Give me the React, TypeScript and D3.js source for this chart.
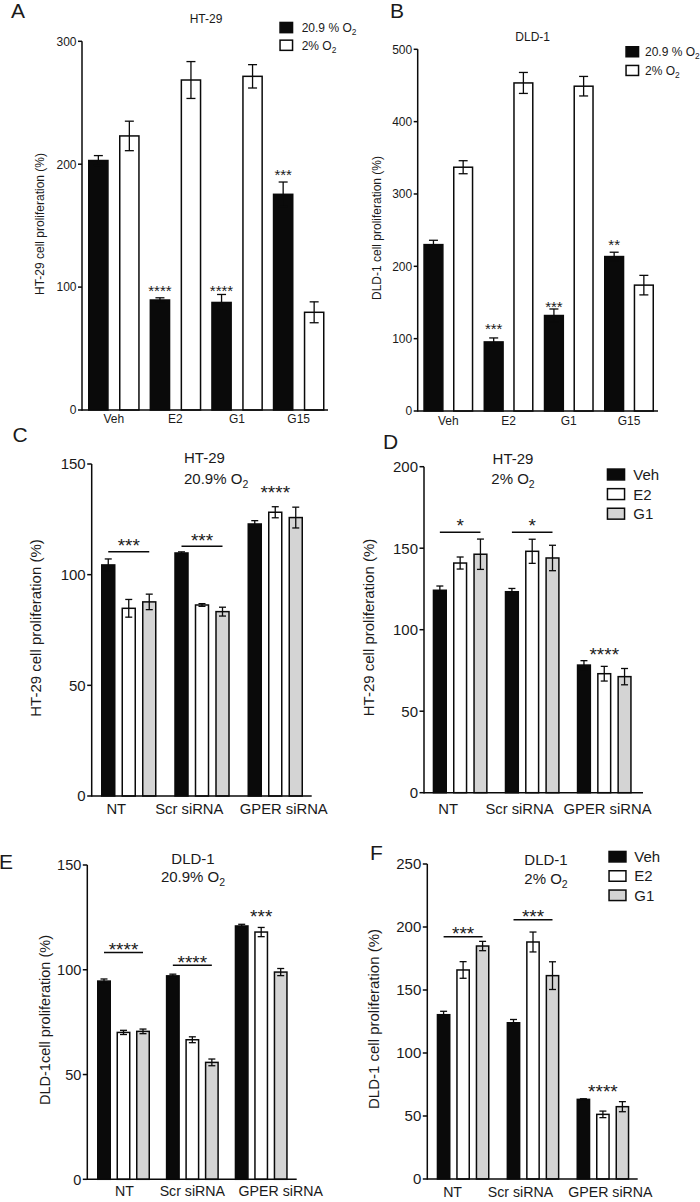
import React from "react";
import * as d3 from "d3";

const FONT = "'Liberation Sans', Arial, Helvetica, sans-serif";
const BLACK = "#0a0a0a";
const WHITE = "#ffffff";
const GRAY = "#d4d4d4";
const TEXT = "#1a1a1a";

// ---------- Panels A & B : treatments under two oxygen conditions ----------
const treatments = ["Veh", "E2", "G1", "G15"];
const oxygenSeries = ["20.9 % O2", "2% O2"];

const ht29Normoxia = [203, 89.5, 87.5, 175.5];
const ht29NormoxiaErr = [4, 1.8, 6.5, 10];
const ht29Hypoxia = [223, 268.5, 271.5, 79.5];
const ht29HypoxiaErr = [12, 15, 9.5, 8.5];
const ht29StarText = ["", "****", "****", "***"];
const ht29StarLevel = [0, 100.2, 100.2, 194.6];

const dld1Normoxia = [230, 95.5, 132, 213.5];
const dld1NormoxiaErr = [6, 5.5, 9, 6];
const dld1Hypoxia = [337, 453.5, 449, 174];
const dld1HypoxiaErr = [9, 14.5, 13.5, 13.5];
const dld1StarText = ["", "***", "***", "**"];
const dld1StarLevel = [0, 118.9, 148.9, 234];

// ---------- Panels C-F : siRNA groups x drug ----------
const siGroups = ["NT", "Scr siRNA", "GPER siRNA"];
const drugSeries = ["Veh", "E2", "G1"];

const cVeh = [104.4, 109.8, 122.9];
const cVehErr = [2.7, 0.5, 1.5];
const cE2 = [84.8, 86.3, 128.2];
const cE2Err = [4, 0.6, 2.5];
const cG1 = [87.7, 83.3, 125.8];
const cG1Err = [3.5, 2, 4.7];
const cSigText = ["***", "***", "****"];
const cSigLevel = [110.4, 112.8, 139];
const cSigBracket = [true, true, false];

const dVeh = [124.2, 123.3, 78.3];
const dVehErr = [2.6, 2, 2.7];
const dE2 = [140.9, 148.1, 73];
const dE2Err = [3.7, 7.4, 4.5];
const dG1 = [146.3, 144, 71.2];
const dG1Err = [9.3, 7.8, 5];
const dSigText = ["*", "*", "****"];
const dSigLevel = [159.8, 159.8, 87.5];
const dSigBracket = [true, true, false];

const eVeh = [94.6, 97.1, 120.9];
const eVehErr = [1, 0.8, 0.8];
const eE2 = [70.1, 66.6, 118];
const eE2Err = [1, 1.4, 2.2];
const eG1 = [70.6, 55.8, 98.9];
const eG1Err = [1.1, 1.6, 1.7];
const eSigText = ["****", "****", "***"];
const eSigLevel = [108.3, 102.2, 127.7];
const eSigBracket = [true, true, false];

const fVeh = [130.4, 124, 63.2];
const fVehErr = [2.7, 2.6, 0.5];
const fE2 = [165.9, 188.1, 51.3];
const fE2Err = [6.6, 7.9, 2.6];
const fG1 = [184.9, 161.4, 57.4];
const fG1Err = [3.7, 11, 4];
const fSigText = ["***", "***", "****"];
const fSigLevel = [192.3, 205.8, 72.8];
const fSigBracket = [true, true, false];

const ticksA = [0, 100, 200, 300];
const ticksB = [0, 100, 200, 300, 400, 500];
const ticksC = [0, 50, 100, 150];
const ticksD = [0, 50, 100, 150, 200];
const ticksE = [0, 50, 100, 150];
const ticksF = [0, 50, 100, 150, 200, 250];

type Sig = { group: number; series: number | null; text: string; level: number; bracket: boolean };

type Legend = { x: number; y: number; step: number; w: number; h: number; textX: number; size: number };

type PanelCfg = {
  letter: string; letterX: number; letterY: number;
  categories: string[]; series: string[];
  values: number[][]; errors: number[][]; fills: string[];
  yMax: number; yTicks: number[];
  axisX: number; axisEnd: number; yBottom: number; yTop: number;
  barsStart: number; barsEnd: number; barWidth: number; barGap: number;
  fs: number; tickLen: number; capW: number;
  yLabel: string; yLabelX: number; yLabelY: number; yLabelSize: number;
  title: string[]; titleX: number; titleY: number; titleLineH: number; titleAnchor: "start" | "middle"; titleSize: number;
  legend?: Legend;
  catLabelY: number; catDx: number[]; catSize: number;
  sigs: Sig[]; starSize: number; starGap: number;
};

function starSigs(text: string[], level: number[]): Sig[] {
  return text
    .map((t, i) => ({ group: i, series: 0, text: t, level: level[i], bracket: false }))
    .filter((s) => s.text !== "");
}
function groupSigs(text: string[], level: number[], bracket: boolean[]): Sig[] {
  return text.map((t, i) => ({ group: i, series: null, text: t, level: level[i], bracket: bracket[i] }));
}

function Txt({ text, size }: { text: string; size: number }) {
  const m = text.match(/^(.*O)2$/);
  if (m) {
    return (
      <>
        {m[1]}
        <tspan dy={size * 0.28} fontSize={size * 0.7}>2</tspan>
      </>
    );
  }
  return <>{text}</>;
}

const panels: PanelCfg[] = [
  {
    letter: "A", letterX: 11, letterY: 18,
    categories: treatments, series: oxygenSeries,
    values: [ht29Normoxia, ht29Hypoxia], errors: [ht29NormoxiaErr, ht29HypoxiaErr], fills: [BLACK, WHITE],
    yMax: 300, yTicks: ticksA,
    axisX: 82, axisEnd: 328, yBottom: 410, yTop: 41.3,
    barsStart: 88, barsEnd: 324.5, barWidth: 20.7, barGap: 10.3,
    fs: 12, tickLen: 4, capW: 9,
    yLabel: "HT-29 cell proliferation (%)", yLabelX: 43.6, yLabelY: 224, yLabelSize: 12,
    title: ["HT-29"], titleX: 206, titleY: 23.3, titleLineH: 0, titleAnchor: "middle", titleSize: 12,
    legend: { x: 279.3, y: 21.7, step: 17.7, w: 14, h: 11.7, textX: 301.7, size: 12 },
    catLabelY: 423, catDx: [0, 0, 0, 0], catSize: 12,
    sigs: starSigs(ht29StarText, ht29StarLevel), starSize: 15, starGap: 0,
  },
  {
    letter: "B", letterX: 390, letterY: 17.5,
    categories: treatments, series: oxygenSeries,
    values: [dld1Normoxia, dld1Hypoxia], errors: [dld1NormoxiaErr, dld1HypoxiaErr], fills: [BLACK, WHITE],
    yMax: 500, yTicks: ticksB,
    axisX: 417.7, axisEnd: 658, yBottom: 411, yTop: 49.3,
    barsStart: 423.3, barsEnd: 654, barWidth: 20.3, barGap: 9.4,
    fs: 12, tickLen: 4, capW: 9,
    yLabel: "DLD-1 cell proliferation (%)", yLabelX: 381.3, yLabelY: 228, yLabelSize: 12,
    title: ["DLD-1"], titleX: 532.7, titleY: 41, titleLineH: 0, titleAnchor: "middle", titleSize: 12,
    legend: { x: 625.3, y: 46, step: 18.7, w: 14, h: 11.5, textX: 645, size: 12 },
    catLabelY: 425, catDx: [0, 0, 0, 0], catSize: 12,
    sigs: starSigs(dld1StarText, dld1StarLevel), starSize: 15, starGap: 0,
  },
  {
    letter: "C", letterX: 12.5, letterY: 441.5,
    categories: siGroups, series: drugSeries,
    values: [cVeh, cE2, cG1], errors: [cVehErr, cE2Err, cG1Err], fills: [BLACK, WHITE, GRAY],
    yMax: 150, yTicks: ticksC,
    axisX: 91.7, axisEnd: 311.7, yBottom: 796, yTop: 464,
    barsStart: 101, barsEnd: 303, barWidth: 14.5, barGap: 6,
    fs: 15, tickLen: 4.5, capW: 7,
    yLabel: "HT-29 cell proliferation (%)", yLabelX: 40.7, yLabelY: 628, yLabelSize: 15,
    title: ["HT-29", "20.9% O2"], titleX: 184, titleY: 463.4, titleLineH: 20.3, titleAnchor: "start", titleSize: 15,
    catLabelY: 813.5, catDx: [-12.5, -12.7, 8.5], catSize: 14.8,
    sigs: groupSigs(cSigText, cSigLevel, cSigBracket), starSize: 19, starGap: 10.5,
  },
  {
    letter: "D", letterX: 383, letterY: 449,
    categories: siGroups, series: drugSeries,
    values: [dVeh, dE2, dG1], errors: [dVehErr, dE2Err, dG1Err], fills: [BLACK, WHITE, GRAY],
    yMax: 200, yTicks: ticksD,
    axisX: 424, axisEnd: 643, yBottom: 792.7, yTop: 466.7,
    barsStart: 432.7, barsEnd: 631.7, barWidth: 14.3, barGap: 6,
    fs: 15, tickLen: 4.5, capW: 7,
    yLabel: "HT-29 cell proliferation (%)", yLabelX: 374, yLabelY: 627.5, yLabelSize: 15,
    title: ["HT-29", "2% O2"], titleX: 513, titleY: 463.7, titleLineH: 20, titleAnchor: "middle", titleSize: 15,
    legend: { x: 606.7, y: 468.3, step: 19.6, w: 18.6, h: 12.4, textX: 633.3, size: 15 },
    catLabelY: 813.5, catDx: [-12, -12.7, 3.3], catSize: 14.8,
    sigs: groupSigs(dSigText, dSigLevel, dSigBracket), starSize: 19, starGap: 11.5,
  },
  {
    letter: "E", letterX: -1, letterY: 869,
    categories: siGroups, series: drugSeries,
    values: [eVeh, eE2, eG1], errors: [eVehErr, eE2Err, eG1Err], fills: [BLACK, WHITE, GRAY],
    yMax: 150, yTicks: ticksE,
    axisX: 87.3, axisEnd: 296.7, yBottom: 1179.3, yTop: 865,
    barsStart: 97, barsEnd: 287.7, barWidth: 14, barGap: 5.5,
    fs: 14.5, tickLen: 4.5, capW: 7,
    yLabel: "DLD-1cell proliferation (%)", yLabelX: 50.4, yLabelY: 1020, yLabelSize: 14.5,
    title: ["DLD-1", "20.9% O2"], titleX: 193, titleY: 863.7, titleLineH: 18.4, titleAnchor: "middle", titleSize: 15,
    catLabelY: 1196, catDx: [1, 0, 19.5], catSize: 14.2,
    sigs: groupSigs(eSigText, eSigLevel, eSigBracket), starSize: 19, starGap: 7.5,
  },
  {
    letter: "F", letterX: 370, letterY: 860,
    categories: siGroups, series: drugSeries,
    values: [fVeh, fE2, fG1], errors: [fVehErr, fE2Err, fG1Err], fills: [BLACK, WHITE, GRAY],
    yMax: 250, yTicks: ticksF,
    axisX: 427.3, axisEnd: 637.7, yBottom: 1179, yTop: 864,
    barsStart: 436.7, barsEnd: 629.3, barWidth: 13.8, barGap: 5.7,
    fs: 15, tickLen: 4.5, capW: 7,
    yLabel: "DLD-1 cell proliferation (%)", yLabelX: 379, yLabelY: 1019, yLabelSize: 15,
    title: ["DLD-1", "2% O2"], titleX: 546, titleY: 864.7, titleLineH: 19, titleAnchor: "middle", titleSize: 15,
    legend: { x: 608.3, y: 850.7, step: 19.3, w: 18.4, h: 12, textX: 634.3, size: 15 },
    catLabelY: 1196.5, catDx: [-10.5, -12.5, 7.5], catSize: 14.2,
    sigs: groupSigs(fSigText, fSigLevel, fSigBracket), starSize: 19, starGap: 8,
  },
];

function Panel({ p }: { p: PanelCfg }) {
  const y = d3.scaleLinear().domain([0, p.yMax]).range([p.yBottom, p.yTop]);
  const nG = p.categories.length;
  const nS = p.series.length;
  const groupW = nS * p.barWidth + (nS - 1) * p.barGap;
  const gStep = (p.barsEnd - p.barsStart - groupW) / (nG - 1);
  const gx = d3
    .scaleBand<string>()
    .domain(p.categories)
    .range([p.barsStart, p.barsEnd])
    .paddingInner(1 - groupW / gStep)
    .paddingOuter(0);
  const sx = d3
    .scaleBand<string>()
    .domain(p.series)
    .range([0, groupW])
    .paddingInner(p.barGap / (p.barWidth + p.barGap))
    .paddingOuter(0);
  const sw = 1.5;

  const barCenter = (g: number, s: number) =>
    (gx(p.categories[g]) as number) + (sx(p.series[s]) as number) + sx.bandwidth() / 2;
  const groupCenter = (g: number) => (gx(p.categories[g]) as number) + gx.bandwidth() / 2;

  return (
    <g fontFamily={FONT} fill={TEXT}>
      <text x={p.letterX} y={p.letterY} fontSize={21}>{p.letter}</text>

      {p.series.map((s, si) =>
        p.categories.map((c, gi) => {
          const v = p.values[si][gi];
          const x0 = (gx(c) as number) + (sx(s) as number);
          return (
            <rect
              key={`b-${si}-${gi}`}
              x={x0 + sw / 2}
              y={y(v)}
              width={sx.bandwidth() - sw}
              height={p.yBottom - y(v)}
              fill={p.fills[si]}
              stroke={BLACK}
              strokeWidth={sw}
            />
          );
        })
      )}

      {p.series.map((s, si) =>
        p.categories.map((c, gi) => {
          const v = p.values[si][gi];
          const e = p.errors[si][gi];
          const cx = barCenter(gi, si);
          const yHi = y(v + e);
          const yLo = y(v - e);
          return (
            <g key={`e-${si}-${gi}`} stroke={BLACK} strokeWidth={1.3}>
              <line x1={cx} x2={cx} y1={yHi} y2={yLo} />
              <line x1={cx - p.capW / 2} x2={cx + p.capW / 2} y1={yHi} y2={yHi} />
              <line x1={cx - p.capW / 2} x2={cx + p.capW / 2} y1={yLo} y2={yLo} />
            </g>
          );
        })
      )}

      <line x1={p.axisX} x2={p.axisX} y1={p.yBottom + 0.75} y2={y(p.yMax)} stroke={BLACK} strokeWidth={1.5} />
      <line x1={p.axisX} x2={p.axisEnd} y1={p.yBottom} y2={p.yBottom} stroke={BLACK} strokeWidth={1.5} />
      {p.yTicks.map((t) => (
        <g key={`t-${t}`}>
          <line x1={p.axisX - p.tickLen} x2={p.axisX} y1={y(t)} y2={y(t)} stroke={BLACK} strokeWidth={1.5} />
          <text x={p.axisX - p.tickLen - 1.5} y={y(t) + p.fs * 0.36} fontSize={p.fs} textAnchor="end">
            {t}
          </text>
        </g>
      ))}

      {p.categories.map((c, gi) => (
        <text key={`c-${gi}`} x={groupCenter(gi) + p.catDx[gi]} y={p.catLabelY} fontSize={p.catSize} textAnchor="middle">
          {c}
        </text>
      ))}

      <text
        transform={`translate(${p.yLabelX},${p.yLabelY}) rotate(-90)`}
        fontSize={p.yLabelSize}
        textAnchor="middle"
      >
        {p.yLabel}
      </text>

      {p.title.map((t, i) => (
        <text
          key={`ti-${i}`}
          x={p.titleX}
          y={p.titleY + i * p.titleLineH}
          fontSize={p.titleSize}
          textAnchor={p.titleAnchor}
        >
          <Txt text={t} size={p.titleSize} />
        </text>
      ))}

      {p.legend &&
        p.series.map((s, si) => {
          const L = p.legend as Legend;
          const ry = L.y + si * L.step;
          return (
            <g key={`l-${si}`}>
              <rect
                x={L.x + 0.75}
                y={ry + 0.75}
                width={L.w - 1.5}
                height={L.h - 1.5}
                fill={p.fills[si]}
                stroke={BLACK}
                strokeWidth={1.5}
              />
              <text x={L.textX} y={ry + L.h / 2 + L.size * 0.36} fontSize={L.size}>
                <Txt text={s} size={L.size} />
              </text>
            </g>
          );
        })}

      {p.sigs.map((sg, i) => {
        if (sg.bracket) {
          const x1 = barCenter(sg.group, 0);
          const x2 = barCenter(sg.group, nS - 1);
          const ly = y(sg.level);
          const starCenter = ly - p.starGap;
          return (
            <g key={`s-${i}`}>
              <line x1={x1} x2={x2} y1={ly} y2={ly} stroke={BLACK} strokeWidth={1.5} />
              <text x={(x1 + x2) / 2} y={starCenter + p.starSize * 0.58} fontSize={p.starSize} textAnchor="middle">
                {sg.text}
              </text>
            </g>
          );
        }
        const cx = sg.series === null ? groupCenter(sg.group) : barCenter(sg.group, sg.series);
        return (
          <text key={`s-${i}`} x={cx} y={y(sg.level) + p.starSize * 0.58} fontSize={p.starSize} textAnchor="middle">
            {sg.text}
          </text>
        );
      })}
    </g>
  );
}

export default function App() {
  return (
    <svg
      width={700}
      height={1202}
      viewBox="0 0 700 1202"
      style={{ position: "absolute", left: 0, top: 0, background: "#ffffff" }}
    >
      <rect x={0} y={0} width={700} height={1202} fill="#ffffff" />
      {panels.map((p) => (
        <Panel key={p.letter} p={p} />
      ))}
    </svg>
  );
}
